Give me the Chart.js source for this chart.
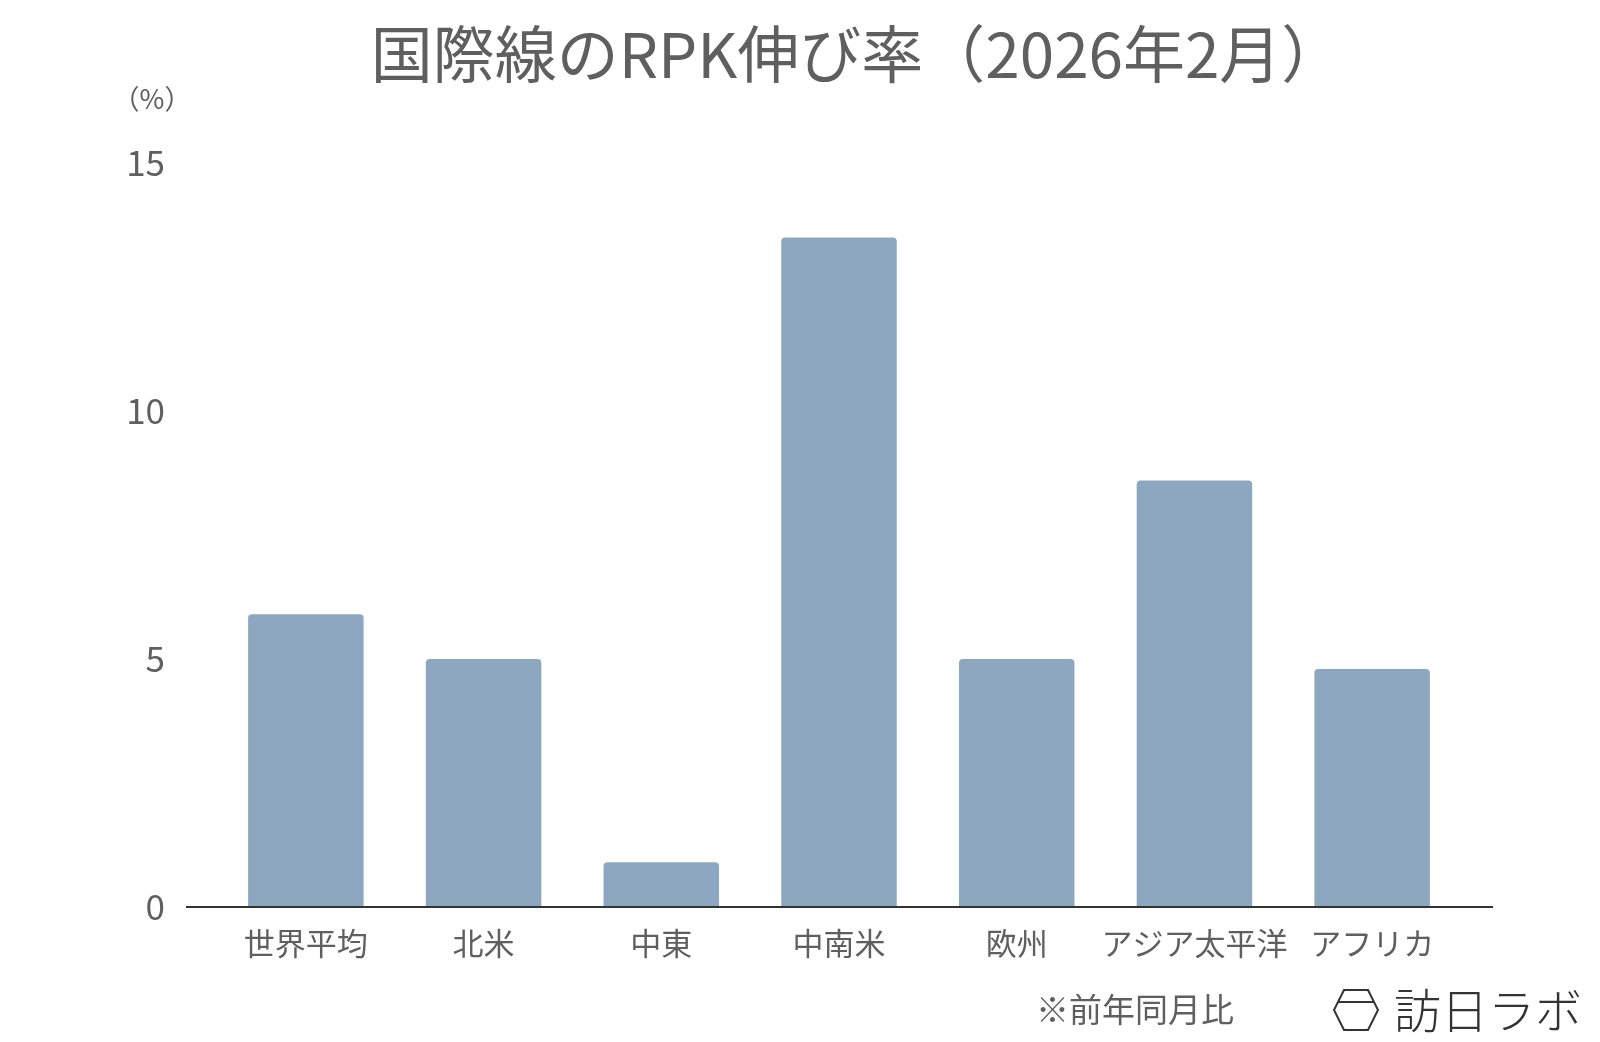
<!DOCTYPE html>
<html>
<head>
<meta charset="utf-8">
<script src="https://cdn.jsdelivr.net/npm/chart.js@4"></script>
<style>
  html, body { margin: 0; padding: 0; background: #fff; }
  #wrap { width: 1600px; height: 1042px; }
</style>
</head>
<body>
<div id="wrap"><canvas id="rpkChart"></canvas></div>
<script>
// data
var regions = ['世界平均', '北米', '中東', '中南米', '欧州', 'アジア太平洋', 'アフリカ'];
var growth = [5.9, 5.0, 0.9, 13.5, 5.0, 8.6, 4.8];
var yTicks = [0, 5, 10, 15];
var titleText = '国際線のRPK伸び率（2026年2月）';

var FONT = "'Noto Sans CJK JP', 'Noto Sans', sans-serif";
var TEXT = '#5f5f5f';

// title over the plot, baseline a bit wider than the bars, unit label, footnote, logo
var extras = {
  id: 'extras',
  afterDatasetsDraw: function (chart) {
    var ctx = chart.ctx;
    var area = chart.chartArea;
    var y0 = chart.scales.y.getPixelForValue(0);
    ctx.save();
    ctx.strokeStyle = '#333';
    ctx.lineWidth = 2;
    ctx.beginPath();
    ctx.moveTo(area.left - 31, y0);
    ctx.lineTo(area.right + 32, y0);
    ctx.stroke();

    ctx.fillStyle = TEXT;
    ctx.textBaseline = 'middle';
    ctx.textAlign = 'center';
    ctx.font = '62px ' + FONT;
    // the closing full-width paren leaves blank space on the right, so nudge right
    ctx.fillText(titleText, (area.left + area.right) / 2 + 18, 54);

    ctx.font = '27px ' + FONT;
    ctx.fillText('（%）', 152, 99);

    ctx.textAlign = 'left';
    ctx.font = '33px ' + FONT;
    ctx.fillText('※前年同月比', 1036, 1009);

    // logo mark
    ctx.strokeStyle = '#333';
    ctx.lineWidth = 2;
    ctx.beginPath();
    ctx.moveTo(1344, 990);
    ctx.lineTo(1368, 990);
    ctx.lineTo(1378, 1010);
    ctx.lineTo(1368, 1030);
    ctx.lineTo(1344, 1030);
    ctx.lineTo(1334, 1010);
    ctx.closePath();
    ctx.moveTo(1338, 1002);
    ctx.lineTo(1374, 1002);
    ctx.stroke();

    ctx.fillStyle = '#333';
    ctx.font = '300 47px ' + FONT;
    ctx.fillText('訪日ラボ', 1394, 1010);
    ctx.restore();
  }
};

var chart = new Chart(document.getElementById('rpkChart'), {
  type: 'bar',
  data: {
    labels: regions,
    datasets: [{
      data: growth,
      backgroundColor: '#8ea7c1',
      borderRadius: 4,
      borderSkipped: 'bottom',
      barPercentage: 0.65,
      categoryPercentage: 1
    }]
  },
  options: {
    responsive: true,
    maintainAspectRatio: false,
    animation: false,
    layout: { padding: { left: 0, right: 139, top: 163, bottom: 0 } },
    plugins: {
      legend: { display: false },
      tooltip: { enabled: false },
      title: { display: false }
    },
    scales: {
      x: {
        grid: { display: false, drawTicks: false },
        border: { display: false },
        ticks: {
          color: TEXT,
          font: { family: FONT, size: 31 },
          padding: 18,
          maxRotation: 0,
          minRotation: 0,
          autoSkip: false
        },
        afterFit: function (s) { s.height = 135; }
      },
      y: {
        min: 0,
        max: 15,
        grid: { display: false, drawTicks: false },
        border: { display: false },
        afterBuildTicks: function (s) {
          s.ticks = yTicks.map(function (v) { return { value: v }; });
        },
        ticks: { color: TEXT, font: { family: FONT, size: 35 }, padding: 52 },
        afterFit: function (s) { s.width = 217; }
      }
    }
  },
  plugins: [extras]
});
</script>
</body>
</html>
